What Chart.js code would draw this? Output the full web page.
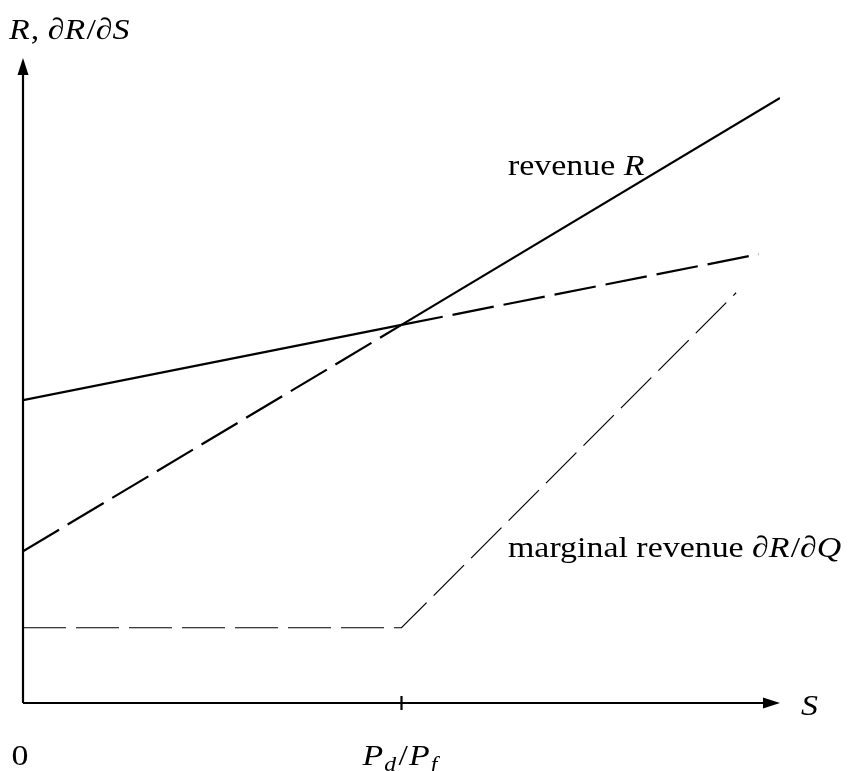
<!DOCTYPE html>
<html>
<head>
<meta charset="utf-8">
<script src="https://cdn.jsdelivr.net/npm/chart.js@4.4.1/dist/chart.umd.min.js"></script>
<style>
  html, body { margin: 0; padding: 0; background: #fff; }
  #wrap { width: 853px; height: 771px; }
</style>
</head>
<body>
<div id="wrap"><canvas id="myChart" width="853" height="771"></canvas></div>
<script>
// S axis: 0 .. 2, with Pd/Pf at 1
const tickValues = [0, 1];
// revenue R: dashed up to Pd/Pf, solid after
const revenueS = [0, 1, 2.0];
const revenueR = [2.36, 5.88, 9.41];
// flatter line: solid up to Pd/Pf, dashed after
const flatS = [0, 1, 1.944];
const flatR = [4.71, 5.88, 6.98];
// marginal revenue dR/dQ (thin dashed)
const marginalS = [0, 1, 1.884];
const marginalR = [1.17, 1.17, 6.38];

const SERIF = '"Liberation Serif", "DejaVu Serif", serif';
const STRETCH = 1.13; // computer-modern text is wider than Times

function pts(xs, ys) {
  return xs.map(function (x, i) { return { x: x, y: ys[i] }; });
}

// axes with arrows, tick at Pd/Pf and the math labels
const axesPlugin = {
  id: "axesPlugin",
  afterDraw: function (chart) {
    const ctx = chart.ctx;
    const a = chart.chartArea;
    const xs = chart.scales.x;
    const x0 = xs.getPixelForValue(0);
    const y0 = chart.scales.y.getPixelForValue(0);
    ctx.save();
    ctx.strokeStyle = "#000";
    ctx.fillStyle = "#000";
    ctx.lineWidth = 2.2;
    ctx.beginPath();
    ctx.moveTo(x0, y0);
    ctx.lineTo(x0, a.top + 14);
    ctx.moveTo(x0, y0);
    ctx.lineTo(a.right - 14, y0);
    ctx.stroke();
    // arrow heads
    ctx.beginPath();
    ctx.moveTo(x0, a.top - 2);
    ctx.lineTo(x0 - 5.5, a.top + 15);
    ctx.lineTo(x0 + 5.5, a.top + 15);
    ctx.closePath();
    ctx.fill();
    ctx.beginPath();
    ctx.moveTo(a.right, y0);
    ctx.lineTo(a.right - 17, y0 - 5.5);
    ctx.lineTo(a.right - 17, y0 + 5.5);
    ctx.closePath();
    ctx.fill();
    // tick at Pd/Pf
    const xp = xs.getPixelForValue(tickValues[1]);
    ctx.beginPath();
    ctx.moveTo(xp, y0 - 7);
    ctx.lineTo(xp, y0 + 7);
    ctx.stroke();

    ctx.textBaseline = "alphabetic";
    ctx.textAlign = "left";
    const up = "30px " + SERIF;
    const it = "italic 30px " + SERIF;
    const sub = "italic 21px " + SERIF;
    function run(parts, x, y) {
      ctx.save();
      ctx.translate(x, y);
      ctx.scale(STRETCH, 1);
      let cx = 0;
      parts.forEach(function (p) {
        ctx.font = p[1];
        ctx.fillText(p[0], cx, p[2] || 0);
        cx += ctx.measureText(p[0]).width + (p[3] || 0);
      });
      ctx.restore();
    }
    // y-axis title
    run([["R", it, 0, 1], [", ", up], ["\u2202", up], ["R", it, 0, 1], ["/", up], ["\u2202", up], ["S", it]], 9, 39);
    // S
    run([["S", it]], 801, 715);
    // tick labels
    ctx.font = up;
    const zw = ctx.measureText("0").width * STRETCH;
    run([["0", up]], x0 - 3 - zw / 2, 765);
    run([["P", it, 0, 1], ["d", sub, 6, 2], ["/", up, 0, 1], ["P", it, 0, 1], ["f", sub, 6]], xp - 39, 765);
    // curve labels
    run([["revenue ", up], ["R", it]], 508, 175);
    run([["marginal revenue ", up], ["\u2202", up], ["R", it, 0, 1], ["/", up], ["\u2202", up], ["Q", it]], 508, 557);
    ctx.restore();
  },
};

const data = {
  datasets: [
    {
      data: pts(revenueS, revenueR),
      borderColor: "#000",
      borderWidth: 2.2,
      pointRadius: 0,
      segment: {
        borderDash: function (c) { return c.p0DataIndex === 0 ? [42, 10] : []; },
      },
    },
    {
      data: pts(flatS, flatR),
      borderColor: "#000",
      borderWidth: 2.2,
      pointRadius: 0,
      segment: {
        borderDash: function (c) { return c.p0DataIndex === 0 ? [] : [42, 10]; },
      },
    },
    {
      data: pts(marginalS, marginalR),
      borderColor: "#000",
      borderWidth: 1.2,
      borderDash: [43, 10],
      pointRadius: 0,
    },
  ],
};

const config = {
  type: "line",
  data: data,
  options: {
    responsive: false,
    animation: false,
    layout: {
      padding: { left: 23, right: 73, top: 60, bottom: 68 },
    },
    plugins: {
      legend: { display: false },
      tooltip: { enabled: false },
    },
    scales: {
      x: { type: "linear", min: 0, max: 2, display: false },
      y: { type: "linear", min: 0, max: 10, display: false },
    },
  },
  plugins: [axesPlugin],
};

const myChart = new Chart(document.getElementById("myChart"), config);
</script>
</body>
</html>
